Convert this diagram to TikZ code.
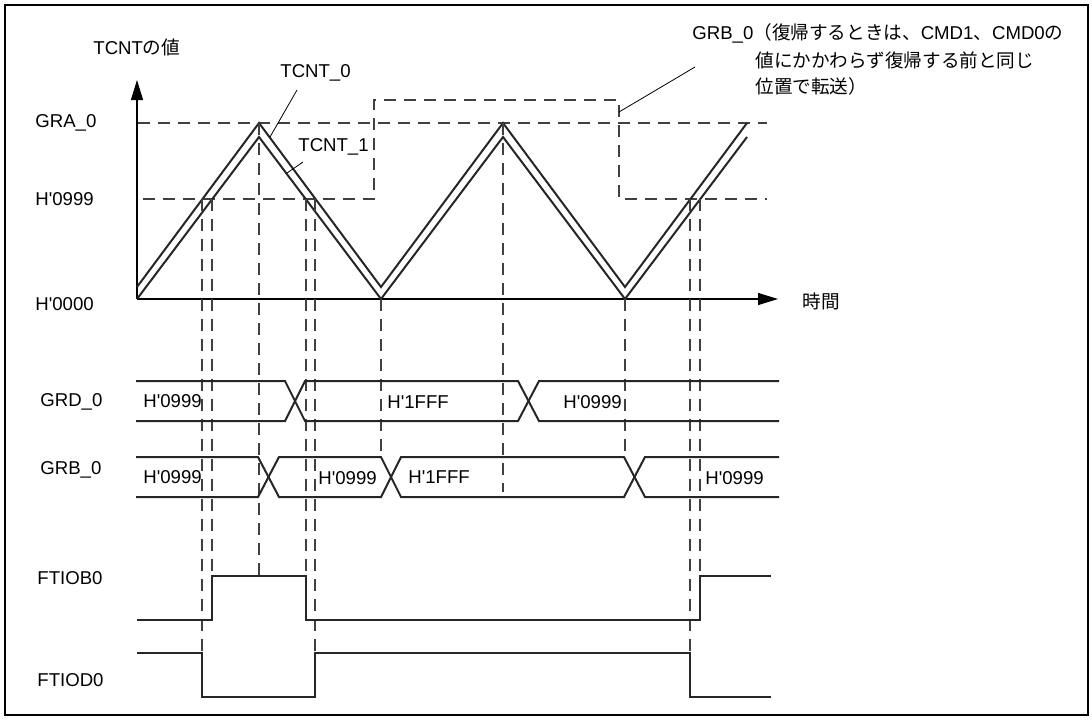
\documentclass[tikz,border=0pt]{standalone}
\usepackage{fontspec}
\setmainfont{Liberation Sans}
\newfontfamily\jp{Noto Sans CJK JP}
\usetikzlibrary{arrows.meta}
\newcommand{\hx}[1]{H\textquotesingle#1}
\begin{document}
\begin{tikzpicture}[x=0.5pt,y=-0.5pt,
  sig/.style={line width=1pt,draw=black!85},
  guide/.style={line width=0.6pt,draw=black!75,dash pattern=on 6pt off 4pt},
  lead/.style={line width=0.4pt},
  txt/.style={anchor=west,inner sep=0pt,font=\fontsize{9.3pt}{11pt}\selectfont}]
\useasboundingbox (0,0) rectangle (1092,719);
\draw[line width=1pt] (5,5) rectangle (1088,715);
% axes
\coordinate (O) at (137,299);
\coordinate (ytip) at (137,80);
\coordinate (xtip) at (778,299);
\draw[line width=0.6pt,-{Triangle[length=10pt,width=6pt]}] (O) -- (ytip);
\draw[line width=0.6pt,-{Triangle[length=10pt,width=6pt]}] (O) -- (xtip);
\node[txt] (yname) at (93,47) {TCNT{\jp の値}};
\node[txt] (xname) at (802,301) {\jp 時間};
\node[txt] (gra) at (35,123) {GRA\_0};
\node[txt] (h999) at (35,199) {\hx{0999}};
\node[txt] (h000) at (35,304) {\hx{0000}};
% compare levels
\draw[guide] (138,123) -- (767,123);
\draw[guide] (143,199) -- (374,199) -- (374,100) -- (619,100) -- (619,199) -- (767,199);
% counters
\draw[sig] (137,287) -- (259,123) -- (381,287) -- (503,123) -- (625,287) -- (747,123);
\draw[sig] (137,299) -- (259,137) -- (381,299) -- (503,137) -- (625,299) -- (747,137);
\node[txt] (tcnt0) at (280,73) {TCNT\_0};
\node[txt] (tcnt1) at (298,147) {TCNT\_1};
\coordinate (p0) at (270,137);
\coordinate (p1) at (287,173);
\draw[lead] (297,90) -- (p0);
\draw[lead] (303,162) -- (p1);
% note on GRB_0
\node[txt] (note1) at (692,33) {GRB\_0{\jp（復帰するときは、}CMD1{\jp 、}CMD0{\jp の}};
\node[txt] (note2) at (755,60) {\jp 値にかかわらず復帰する前と同じ};
\node[txt] (note3) at (755,86) {\jp 位置で転送）};
\coordinate (q) at (619,112);
\draw[lead] (q) -- (695,67);
% time marks
\draw[guide] (202,199) -- (202,653);
\draw[guide] (212,199) -- (212,576);
\draw[guide] (259,123) -- (259,576);
\draw[guide] (306,199) -- (306,620);
\draw[guide] (315,199) -- (315,653);
\draw[guide] (381,299) -- (381,457);
\draw[guide] (503,123) -- (503,492);
\draw[guide] (625,299) -- (625,457);
\draw[guide] (690,199) -- (690,653);
\draw[guide] (700,199) -- (700,576);
% GRD_0
\node[txt] (grd) at (40,402) {GRD\_0};
\draw[sig] (136,381) -- (285,381) -- (305,421) -- (518,421) -- (539,381) -- (779,381);
\draw[sig] (136,421) -- (285,421) -- (305,381) -- (518,381) -- (539,421) -- (779,421);
\node[txt] (d1) at (143,401) {\hx{0999}};
\node[txt] (d2) at (387,402) {\hx{1FFF}};
\node[txt] (d3) at (563,402) {\hx{0999}};
% GRB_0
\node[txt] (grb) at (40,470) {GRB\_0};
\draw[sig] (136,457) -- (258,457) -- (279,497) -- (381,497) -- (401,457) -- (624,457) -- (645,497) -- (779,497);
\draw[sig] (136,497) -- (258,497) -- (279,457) -- (381,457) -- (401,497) -- (624,497) -- (645,457) -- (779,457);
\node[txt] (b1) at (143,477) {\hx{0999}};
\node[txt] (b2) at (318,478) {\hx{0999}};
\node[txt] (b3) at (408,477) {\hx{1FFF}};
\node[txt] (b4) at (705,478) {\hx{0999}};
% outputs
\node[txt] (ftiob) at (37,578) {FTIOB0};
\draw[sig] (137,620) -- (212,620) -- (212,576) -- (306,576) -- (306,620) -- (700,620) -- (700,576) -- (771,576);
\node[txt] (ftiod) at (37,680) {FTIOD0};
\draw[sig] (137,653) -- (202,653) -- (202,697) -- (315,697) -- (315,653) -- (690,653) -- (690,697) -- (771,697);
\end{tikzpicture}
\end{document}
